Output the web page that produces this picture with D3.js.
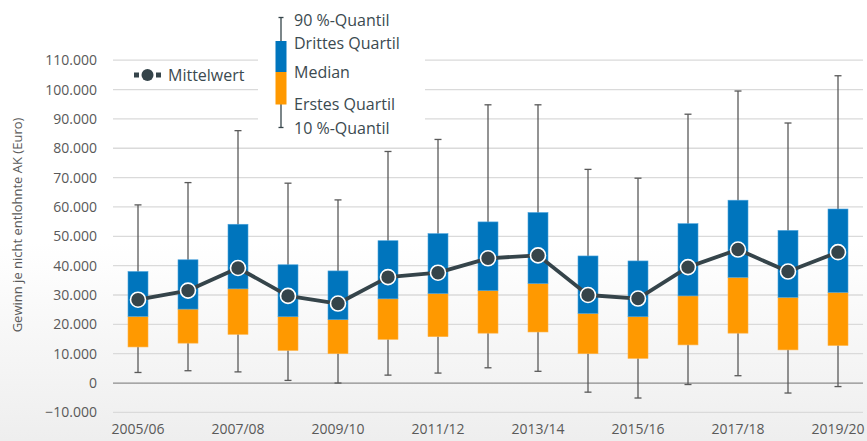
<!DOCTYPE html>
<html><head><meta charset="utf-8">
<script src="https://cdn.jsdelivr.net/npm/d3@7"></script>
<style>body{margin:0;background:#fff}svg{display:block;font-family:"Open Sans",sans-serif}</style>
</head><body><svg id="c" width="867" height="441"></svg>
<script>
const years = ["2005/06","2006/07","2007/08","2008/09","2009/10","2010/11","2011/12","2012/13","2013/14","2014/15","2015/16","2016/17","2017/18","2018/19","2019/20"];
const p10 = [3600,4200,3800,900,0,2700,3400,5200,4000,-3100,-5100,-500,2500,-3400,-1200];
const q1 = [12300,13600,16600,11100,10000,14900,15800,17000,17400,10000,8400,13000,17000,11300,12800];
const median = [22700,25200,32100,22600,21600,28700,30500,31500,33900,23700,22600,29700,36000,29200,30900];
const q3 = [38000,42000,54100,40300,38200,48500,50900,54900,58100,43300,41600,54300,62300,52000,59300];
const p90 = [60700,68300,86000,68100,62400,78900,83000,94800,94800,72800,69800,91600,99500,88600,104700];
const mean = [28400,31500,39200,29700,27100,36100,37600,42500,43500,30000,28800,39500,45500,38000,44600];
const yTicks = [-10000,0,10000,20000,30000,40000,50000,60000,70000,80000,90000,100000,110000];
const legendLabels = ["90 %-Quantil","Drittes Quartil","Median","Erstes Quartil","10 %-Quantil"];
const meanLabel = "Mittelwert";
const yTitle = "Gewinn je nicht entlohnte AK (Euro)";

const svg = d3.select("#c");
const W = 867, H = 441;
const defs = svg.append("defs");
const g = defs.append("linearGradient").attr("id","bg").attr("x1",0).attr("x2",0).attr("y1",0).attr("y2",1);
g.append("stop").attr("offset","0.55").attr("stop-color","#ffffff");
g.append("stop").attr("offset","1").attr("stop-color","#eeeeee");
svg.append("rect").attr("width",W).attr("height",H).attr("fill","url(#bg)");

const x = d3.scaleBand().domain(years).range([113,863]).paddingInner(0.6).paddingOuter(0.3);
const y = d3.scaleLinear().domain([-10000,110000]).range([412.4,60.2]);
const cx = d => x(d) + x.bandwidth()/2;
const fmt = v => v === 0 ? "0" : d3.format(",")(v).replace(/,/g,".");

// gridlines
svg.append("g").selectAll("line").data(yTicks).join("line")
  .attr("x1",113).attr("x2",863).attr("y1",d=>y(d)).attr("y2",d=>y(d))
  .attr("stroke",d=>d===0?"#8c8c8c":"#dadada").attr("stroke-width",d=>d===0?1.2:1.3);

// y axis labels
const yAxis = d3.axisLeft(y).tickValues(yTicks).tickFormat(fmt).tickSize(0).tickPadding(0);
const ya = svg.append("g").attr("transform","translate(97,0)").call(yAxis);
ya.select(".domain").remove();
ya.selectAll("text").attr("font-family","Open Sans").attr("font-size",14).attr("fill","#595959");

// x axis labels
const xAxis = d3.axisBottom(x).tickValues(years.filter((d,i)=>i%2===0)).tickSize(0).tickPadding(0);
const xa = svg.append("g").attr("transform","translate(0,424)").call(xAxis);
xa.select(".domain").remove();
xa.selectAll("text").attr("font-family","Open Sans").attr("font-size",14).attr("fill","#595959");

// y title
svg.append("text").attr("transform","translate(22,225) rotate(-90)").attr("text-anchor","middle")
  .attr("font-size",13).attr("fill","#595959").text(yTitle);

// legend backdrop (hides gridlines)
svg.append("rect").attr("x",258).attr("y",0).attr("width",167).attr("height",140).attr("fill","#fff");

const data = years.map((d,i)=>({d,p10:p10[i],q1:q1[i],med:median[i],q3:q3[i],p90:p90[i],mean:mean[i]}));
const wc = "#595959";
const bw = x.bandwidth();
const bx = svg.append("g");
data.forEach(r=>{
  const c = cx(r.d);
  bx.append("line").attr("x1",c).attr("x2",c).attr("y1",y(r.p90)).attr("y2",y(r.p10)).attr("stroke",wc).attr("stroke-width",1.3);
  [r.p90,r.p10].forEach(v=>bx.append("line").attr("x1",c-3.5).attr("x2",c+3.5).attr("y1",y(v)).attr("y2",y(v)).attr("stroke",wc).attr("stroke-width",1.3));
  bx.append("rect").attr("x",x(r.d)).attr("width",bw).attr("y",y(r.med)).attr("height",y(r.q1)-y(r.med)).attr("fill","#ff9900").attr("stroke","#ffb347").attr("stroke-width",0.6);
  bx.append("rect").attr("x",x(r.d)).attr("width",bw).attr("y",y(r.q3)).attr("height",y(r.med)-y(r.q3)).attr("fill","#0075bd").attr("stroke","#4aa3dc").attr("stroke-width",0.6);
});

// mean line
const lc = "#35444a";
svg.append("path").datum(data).attr("fill","none").attr("stroke",lc).attr("stroke-width",3.8).attr("stroke-linejoin","round")
  .attr("d",d3.line().x(d=>cx(d.d)).y(d=>y(d.mean)));
svg.append("g").selectAll("circle").data(data).join("circle")
  .attr("cx",d=>cx(d.d)).attr("cy",d=>y(d.mean)).attr("r",7.5).attr("fill",lc).attr("stroke","#fff").attr("stroke-width",1.6);

// Mittelwert legend
const lg = svg.append("g");
lg.append("rect").attr("x",134).attr("y",72.5).attr("width",5).attr("height",5).attr("fill",lc);
lg.append("rect").attr("x",156).attr("y",72.5).attr("width",5).attr("height",5).attr("fill",lc);
lg.append("circle").attr("cx",147.5).attr("cy",75).attr("r",6).attr("fill",lc);
lg.append("text").attr("x",168).attr("y",75).attr("dy","0.35em").attr("font-size",16).attr("fill","#3b4a50").text(meanLabel);

// box legend
const bl = svg.append("g");
bl.append("line").attr("x1",281).attr("x2",281).attr("y1",17.5).attr("y2",127.5).attr("stroke",lc).attr("stroke-width",1.3);
[17.5,127.5].forEach(v=>bl.append("line").attr("x1",278.5).attr("x2",283.5).attr("y1",v).attr("y2",v).attr("stroke",lc).attr("stroke-width",1.3));
bl.append("rect").attr("x",275.5).attr("y",41).attr("width",11).attr("height",31).attr("fill","#0075bd");
bl.append("rect").attr("x",275.5).attr("y",72).attr("width",11).attr("height",32.5).attr("fill","#ff9900");
const ly = [20,43,72,104,128];
bl.selectAll("text").data(legendLabels).join("text").attr("x",294).attr("y",(d,i)=>ly[i]).attr("dy","0.35em")
  .attr("font-size",16).attr("fill","#3b4a50").text(d=>d);
</script></body></html>
